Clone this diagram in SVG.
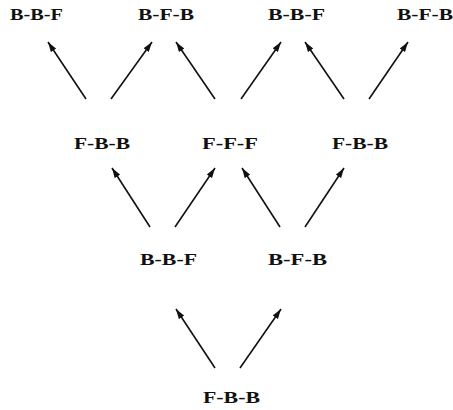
<svg xmlns="http://www.w3.org/2000/svg" width="453" height="410" viewBox="0 0 453 410">
<defs>
<style>
.lbl{font-family:"Liberation Serif","Times New Roman",serif;font-size:16.5px;font-weight:bold;fill:#111;text-anchor:middle}
.arr{stroke:#111;stroke-width:1.6;fill:none;marker-end:url(#ah)}
</style>
<marker id="ah" markerUnits="userSpaceOnUse" markerWidth="12" markerHeight="8" refX="10" refY="4" orient="auto">
<path d="M0,0.8 L10,4 L0,7.2 Z" fill="#111"/>
</marker>
</defs>
<rect width="453" height="410" fill="#fff"/>
<g id="connectors">
<line class="arr" x1="86" y1="99" x2="48" y2="42"/>
<line class="arr" x1="111" y1="99" x2="152" y2="42"/>
<line class="arr" x1="215" y1="99" x2="176" y2="42"/>
<line class="arr" x1="241" y1="99" x2="281" y2="42"/>
<line class="arr" x1="344" y1="99" x2="305" y2="42"/>
<line class="arr" x1="369" y1="99" x2="408" y2="42"/>
<line class="arr" x1="150" y1="227" x2="112" y2="168"/>
<line class="arr" x1="175" y1="227" x2="215" y2="168"/>
<line class="arr" x1="280" y1="227" x2="242" y2="168"/>
<line class="arr" x1="305" y1="227" x2="344" y2="168"/>
<line class="arr" x1="215" y1="368" x2="176" y2="309"/>
<line class="arr" x1="240" y1="368" x2="281" y2="309"/>
</g>
<g id="n1"><text class="lbl" x="36.5" y="20" textLength="53" lengthAdjust="spacingAndGlyphs">B-B-F</text></g>
<g id="n2"><text class="lbl" x="166" y="20" textLength="56" lengthAdjust="spacingAndGlyphs">B-F-B</text></g>
<g id="n3"><text class="lbl" x="296.5" y="20" textLength="57" lengthAdjust="spacingAndGlyphs">B-B-F</text></g>
<g id="n4"><text class="lbl" x="425" y="20" textLength="56" lengthAdjust="spacingAndGlyphs">B-F-B</text></g>
<g id="n5"><text class="lbl" x="102" y="149" textLength="56" lengthAdjust="spacingAndGlyphs">F-B-B</text></g>
<g id="n6"><text class="lbl" x="230" y="149" textLength="56" lengthAdjust="spacingAndGlyphs">F-F-F</text></g>
<g id="n7"><text class="lbl" x="360" y="149" textLength="56" lengthAdjust="spacingAndGlyphs">F-B-B</text></g>
<g id="n8"><text class="lbl" x="168.5" y="265" textLength="57" lengthAdjust="spacingAndGlyphs">B-B-F</text></g>
<g id="n9"><text class="lbl" x="297.5" y="265" textLength="59" lengthAdjust="spacingAndGlyphs">B-F-B</text></g>
<g id="n10"><text class="lbl" x="231.5" y="403" textLength="57" lengthAdjust="spacingAndGlyphs">F-B-B</text></g>
</svg>
